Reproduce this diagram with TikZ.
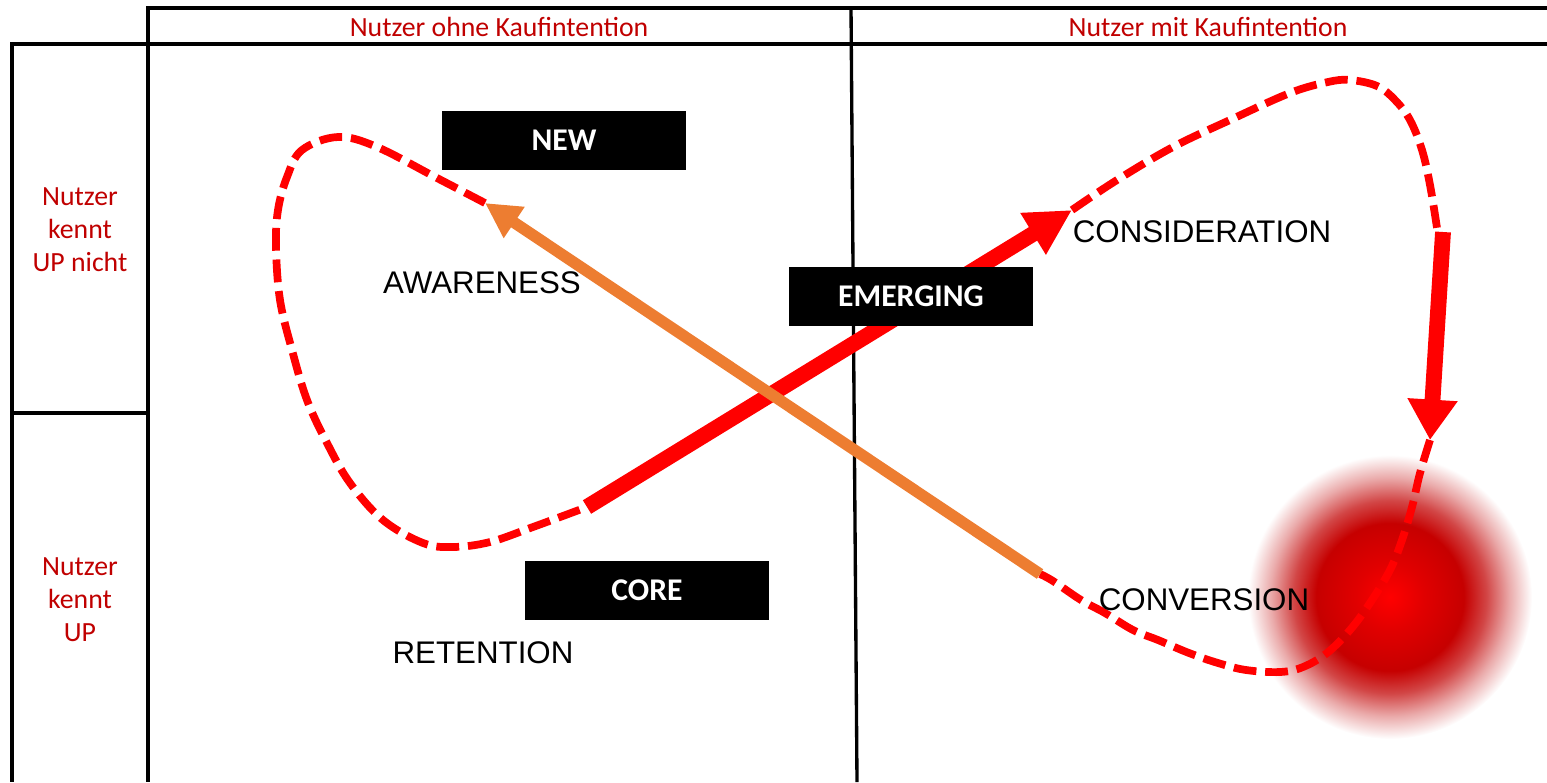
\documentclass[tikz,border=0pt]{standalone}
\usepackage{fontspec}
\setmainfont{Carlito}
\newfontfamily\arialfont{Liberation Sans}
\usetikzlibrary{arrows.meta}
\definecolor{funnelred}{RGB}{255,0,0}
\definecolor{funnelorange}{RGB}{237,125,49}
\definecolor{headred}{RGB}{192,0,0}
\definecolor{glowdark}{RGB}{198,0,0}
\definecolor{glowmid}{RGB}{210,70,70}
\definecolor{glowpale}{RGB}{234,170,170}
\pgfdeclareradialshading{convglow}{\pgfpoint{0bp}{0bp}}{color(0bp)=(funnelred); color(6bp)=(funnelred!88!black); color(13bp)=(glowdark); color(17bp)=(glowmid); color(21bp)=(glowpale); color(25bp)=(white); color(50bp)=(white)}

\tikzset{
  gridline/.style={line width=1.9pt},
  headtext/.style={text=headred, font=\fontsize{15.8}{18.7}\selectfont, align=center},
  tagbox/.style={fill=black, text=white, minimum width=4.88cm, minimum height=1.18cm, font=\fontsize{18}{20}\selectfont\bfseries},
  stage/.style={font=\arialfont\fontsize{17.8}{20}\selectfont},
  loopdash/.style={draw=funnelred, line width=4.4pt, dash pattern=on 13pt off 5pt},
}

\begin{document}
\begin{tikzpicture}[x=0.02cm, y=-0.02cm]
\useasboundingbox (0,0) rectangle (1547,782);

% frame
\draw[gridline] (1547,8) -- (148,8) -- (148,782);
\draw[gridline] (1547,44) -- (12,44) -- (12,782);
\draw[gridline] (12,413) -- (148,413);
\draw[gridline] (851,8) -- (857,782);

% headers
\node[headtext] (nokauf) at (499,27) {Nutzer ohne Kaufintention};
\node[headtext] (mitkauf) at (1208,27) {Nutzer mit Kaufintention};
\node[headtext] (unbekannt) at (80,230) {Nutzer\\kennt\\UP nicht};
\node[headtext] (bekannt) at (80,600) {Nutzer\\kennt\\UP};

% glow at conversion
\shade[shading=convglow] (1390,597) circle[radius=142];

% loop points
\coordinate (awaretip) at (485,203);
\coordinate (retstart) at (587,507);
\coordinate (considtip) at (1072,210);
\coordinate (dropstart) at (1443,232);
\coordinate (convtip) at (1430,440);
\coordinate (convend) at (1040,574);

\draw[loopdash] plot[smooth, tension=0.6] coordinates {(awaretip) (437,178) (377,147) (338,137) (302,150) (287,177) (278,210) (276,247) (280,300) (292,350) (307,400) (327,443) (350,483) (383,520) (423,543) (453,547) (490,542) (533,527) (retstart)};
\draw[loopdash] plot[smooth, tension=0.6] coordinates {(considtip) (1117,180) (1173,147) (1230,120) (1290,93) (1328,82) (1350,80) (1377,86) (1395,100) (1410,120) (1422,150) (1430,185) (1437,228)};
\draw[loopdash] plot[smooth, tension=0.6] coordinates {(convtip) (1420,473) (1412,507) (1402,540) (1390,570) (1370,603) (1350,630) (1327,653) (1303,667) (1280,672) (1246,670) (1218,663) (1189,653) (1158,640) (1133,630) (1105,613) (1081,600) (1053,581) (convend)};

% arrows
\draw[funnelred, line width=9pt, -{Triangle[length=26pt, width=26pt]}] (retstart) -- (considtip);
\draw[funnelred, line width=9pt, -{Triangle[length=23pt, width=27pt]}] (dropstart) -- (convtip);
\draw[funnelorange, line width=6.5pt, -{Triangle[length=20pt, width=20pt]}] (convend) -- (awaretip);

% segments
\node[tagbox] (newbox) at (564,140.5) {NEW};
\node[tagbox] (emergbox) at (911,296) {EMERGING};
\node[tagbox] (corebox) at (647,590) {CORE};

\node[stage] (aware) at (482,283) {AWARENESS};
\node[stage] (consid) at (1202,232) {CONSIDERATION};
\node[stage] (conv) at (1204,600) {CONVERSION};
\node[stage] (reten) at (483,653) {RETENTION};
\end{tikzpicture}
\end{document}
